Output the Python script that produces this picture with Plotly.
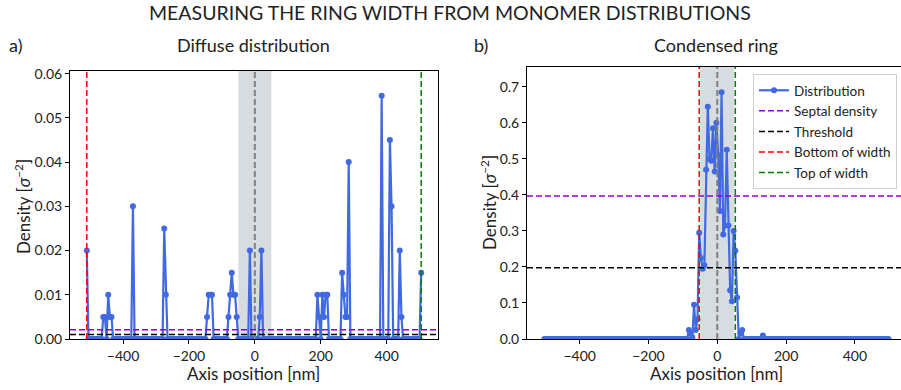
import numpy as np
import plotly.graph_objects as go

# ---------------- data ----------------
# (a) diffuse distribution: bins every 5 nm from -510 to 505, non-zero bins listed
left_bin_start, left_bin_end, bin_w = -510, 505, 5
left_peak_x = [-510, -460, -455, -445, -440, -435, -370, -275, -270,
               -145, -140, -135, -130, -80, -75, -70, -65, -60, -55,
               -15, 15, 20, 190, 195, 205, 210, 215, 220,
               265, 270, 275, 280, 285, 385, 410, 415, 440, 445, 505]
left_peak_y = [0.020, 0.005, 0.005, 0.010, 0.005, 0.005, 0.030, 0.025, 0.010,
               0.005, 0.010, 0.010, 0.010, 0.005, 0.010, 0.015, 0.010, 0.010, 0.005,
               0.020, 0.005, 0.020, 0.010, 0.005, 0.010, 0.005, 0.010, 0.010,
               0.015, 0.010, 0.005, 0.005, 0.040, 0.055, 0.045, 0.030, 0.020, 0.005, 0.015]
left_septal = 0.0021
left_threshold = 0.0010
left_bottom, left_top = -510, 505

# (b) condensed ring: bins every 5 nm from -502.5 to 497.5, non-zero bins listed
right_bin_start, right_bin_end = -502.5, 497.5
right_peak_x = [-82.5, -77.5, -72.5, -67.5, -62.5, -57.5, -52.5, -47.5, -42.5, -37.5,
                -32.5, -27.5, -22.5, -17.5, -12.5, -7.5, -2.5, 2.5, 7.5, 12.5,
                17.5, 22.5, 27.5, 32.5, 37.5, 42.5, 47.5, 52.5, 57.5, 67.5, 72.5, 132.5]
right_peak_y = [0.025, 0.015, 0.005, 0.095, 0.025, 0.055, 0.295, 0.225, 0.195, 0.205,
                0.470, 0.645, 0.500, 0.495, 0.585, 0.465, 0.600, 0.510, 0.355, 0.685,
                0.290, 0.315, 0.525, 0.315, 0.135, 0.105, 0.300, 0.245, 0.115, 0.015, 0.025, 0.010]
right_septal = 0.397
right_threshold = 0.198
right_bottom, right_top = -52.5, 52.5

shade_half = 50
x_ticks = [-400, -200, 0, 200, 400]


def build(start, end, px, py):
    xs = np.arange(start, end + bin_w / 2, bin_w)
    ys = np.zeros_like(xs, dtype=float)
    for x, y in zip(px, py):
        ys[np.argmin(np.abs(xs - x))] = y
    return xs, ys


lx, ly = build(left_bin_start, left_bin_end, left_peak_x, left_peak_y)
rx, ry = build(right_bin_start, right_bin_end, right_peak_x, right_peak_y)

FONT = "Lato"
BLUE = "royalblue"
W, H = 901, 390
DASH = "6px,3px"

fig = go.Figure()
fig.add_trace(go.Scatter(x=lx, y=ly, mode="lines+markers", line=dict(color=BLUE, width=2.2),
                         marker=dict(color=BLUE, size=6), showlegend=False,
                         xaxis="x", yaxis="y"))
fig.add_trace(go.Scatter(x=rx, y=ry, mode="lines+markers", line=dict(color=BLUE, width=2.2),
                         marker=dict(color=BLUE, size=6), name="Distribution",
                         xaxis="x2", yaxis="y2"))
for name, col in [("Septal density", "darkviolet"), ("Threshold", "black"),
                  ("Bottom of width", "red"), ("Top of width", "green")]:
    fig.add_trace(go.Scatter(x=[None], y=[None], mode="lines", name=name,
                             line=dict(color=col, width=1.5, dash=DASH),
                             xaxis="x2", yaxis="y2"))

shapes = []
for xa, ya, sep, thr, bot, top in [("x", "y", left_septal, left_threshold, left_bottom, left_top),
                                   ("x2", "y2", right_septal, right_threshold, right_bottom, right_top)]:
    shapes.append(dict(type="rect", xref=xa, yref=ya + " domain", x0=-shade_half, x1=shade_half,
                       y0=0, y1=1, fillcolor="rgba(112,128,144,0.28)", line=dict(width=0), layer="below"))
    shapes.append(dict(type="line", xref=xa, yref=ya + " domain", x0=0, x1=0, y0=0, y1=1,
                       line=dict(color="gray", width=2, dash=DASH)))
    shapes.append(dict(type="line", xref=xa, yref=ya + " domain", x0=bot, x1=bot, y0=0, y1=1,
                       line=dict(color="red", width=1.5, dash=DASH)))
    shapes.append(dict(type="line", xref=xa, yref=ya + " domain", x0=top, x1=top, y0=0, y1=1,
                       line=dict(color="green", width=1.5, dash=DASH)))
    shapes.append(dict(type="line", xref=xa + " domain", yref=ya, x0=0, x1=1, y0=sep, y1=sep,
                       line=dict(color="darkviolet", width=1.5, dash=DASH)))
    shapes.append(dict(type="line", xref=xa + " domain", yref=ya, x0=0, x1=1, y0=thr, y1=thr,
                       line=dict(color="black", width=1.5, dash=DASH)))

axis_common = dict(showline=True, mirror=True, linecolor="black", linewidth=1, ticks="outside",
                   ticklen=4, tickwidth=1, tickcolor="black", showgrid=False, zeroline=False,
                   automargin=False, tickfont=dict(family=FONT, size=14, color="#222"))


def px2x(p):
    return p / W


def px2y(p):
    return (H - p) / H


fig.update_layout(
    width=W, height=H, margin=dict(l=0, r=0, t=0, b=0, pad=0, autoexpand=False),
    paper_bgcolor="white", plot_bgcolor="white",
    font=dict(family=FONT, color="#222"),
    shapes=shapes,
    xaxis=dict(domain=[px2x(70), px2x(438)], range=[-561, 556], tickvals=x_ticks, anchor="y", **axis_common),
    yaxis=dict(domain=[px2y(339), px2y(71)], range=[0, 0.0606], dtick=0.01, tickformat=".2f",
               anchor="x", **axis_common),
    xaxis2=dict(domain=[px2x(527), 1.0], range=[-553, 534], tickvals=x_ticks, anchor="y2", **axis_common),
    yaxis2=dict(domain=[px2y(339), px2y(67)], range=[0, 0.755], dtick=0.1, tickformat=".1f",
                anchor="x2", **axis_common),
    legend=dict(x=px2x(897), y=px2y(74), xanchor="right", yanchor="top",
                bgcolor="rgba(255,255,255,0.85)", bordercolor="#d0d0d0", borderwidth=1,
                font=dict(family=FONT, size=13.5, color="#222"), itemwidth=30),
)

ann = [
    dict(text="MEASURING THE RING WIDTH FROM MONOMER DISTRIBUTIONS", x=px2x(450), y=px2y(13), size=19.5),
    dict(text="a)", x=px2x(15), y=px2y(45), size=18),
    dict(text="Diffuse distribution", x=px2x(254), y=px2y(45), size=18),
    dict(text="b)", x=px2x(481), y=px2y(45), size=18),
    dict(text="Condensed ring", x=px2x(716), y=px2y(45), size=18),
    dict(text="Axis position [nm]", x=px2x(254), y=px2y(373), size=17),
    dict(text="Axis position [nm]", x=px2x(716), y=px2y(373), size=17),
]
for a in ann:
    fig.add_annotation(text=a["text"], x=a["x"], y=a["y"], xref="paper", yref="paper",
                       xanchor="center", yanchor="middle", showarrow=False,
                       font=dict(family=FONT, size=a["size"], color="#222"))
for xp, yp in [(22, 207), (489, 203)]:
    fig.add_annotation(text="Density [<i>σ</i><sup>−2</sup>]", x=px2x(xp), y=px2y(yp),
                       xref="paper", yref="paper", xanchor="center", yanchor="middle",
                       showarrow=False, textangle=-90,
                       font=dict(family=FONT, size=17, color="#222"))

fig.write_html("out.html", config={"displayModeBar": False},
               post_script="document.body.style.margin='0px';document.body.style.overflow='hidden';")
